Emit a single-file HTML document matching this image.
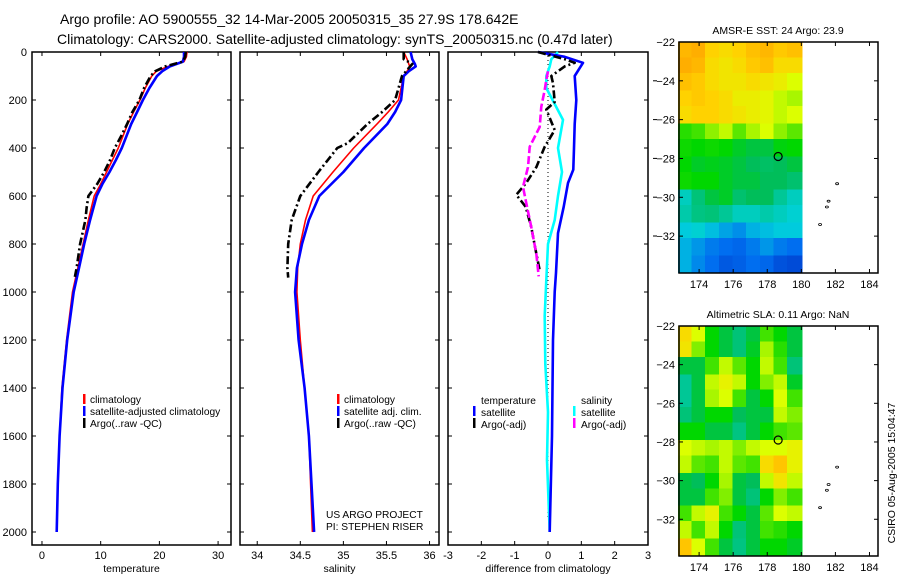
<!DOCTYPE html>
<html><head><meta charset="utf-8"><style>
body{margin:0;background:#fff;}
svg{display:block;font-family:"Liberation Sans",sans-serif;}
</style></head><body>
<svg id="fig" width="900" height="580" viewBox="0 0 900 580">
<text x="60" y="24" font-size="14">Argo profile: AO 5900555_32 14-Mar-2005 20050315_35 27.9S 178.642E</text>
<text x="57" y="44" font-size="14">Climatology: CARS2000. Satellite-adjusted climatology: synTS_20050315.nc (0.47d later)</text>
<g id="g"></g>
</svg>
<script>
// ---- data ----
const tDepth=[0,20,40,60,80,100,150,200,250,300,350,400,450,500,550,600,700,800,900,1000,1200,1400,1600,1800,2000];
const tClim=[24.7,24.6,24.2,21.5,19.5,18.7,17.6,16.7,15.6,14.6,13.8,13.0,12.0,11.0,10.0,8.9,7.9,7.0,6.1,5.2,4.2,3.4,3.0,2.7,2.5];
const tSat=[24.2,24.2,24.0,21.8,20.5,19.6,18.3,17.2,16.2,15.2,14.4,13.6,12.6,11.5,10.3,9.3,8.2,7.2,6.3,5.4,4.3,3.5,3.0,2.7,2.5];
const aDepth=[0,20,40,60,80,100,150,200,250,300,350,400,450,500,550,600,650,700,800,900,937];
const tArgo=[24.5,24.4,24.0,21.0,19.3,18.5,17.4,16.6,15.4,14.5,13.5,12.4,11.6,10.6,9.4,7.9,7.6,7.4,6.5,5.9,5.6];
const sDepth=[0,30,50,60,80,100,200,250,300,400,500,600,700,800,900,1000,1200,1400,1600,1800,2000];
const sClim=[35.70,35.74,35.76,35.77,35.74,35.70,35.64,35.52,35.39,35.12,34.88,34.65,34.56,34.50,34.47,34.46,34.50,34.55,34.60,34.62,34.64];
const sSat=[35.78,35.80,35.83,35.84,35.76,35.70,35.67,35.60,35.51,35.24,35.00,34.72,34.60,34.52,34.46,34.44,34.48,34.55,34.60,34.63,34.66];
const sArgoDepth=[0,30,50,100,200,250,300,380,400,500,600,700,800,900,940];
const sArgo=[35.70,35.70,35.80,35.68,35.60,35.45,35.28,35.05,34.93,34.71,34.50,34.40,34.36,34.35,34.36];
const dTDepth=[0,20,45,100,200,300,400,490,546,645,755,920,1000,1200,1600,2000];
const dTSat=[-0.3,0.5,1.05,0.8,0.85,0.8,0.78,0.76,0.6,0.47,0.3,0.24,0.2,0.15,0.12,0.05];
const dSDepth=[0,30,60,100,150,283,400,500,600,700,800,950,1100,1300,1500,1700,2000];
const dSSat=[0.3,0.1,0.05,-0.05,-0.05,0.45,0.3,0.42,0.3,0.2,0.0,-0.05,-0.1,-0.08,0.0,-0.03,0.05];
const dTArgoDepth=[0,30,45,60,100,130,208,240,325,395,480,545,595,645,730,840,910];
const dTArgo=[-0.3,0.5,0.8,0.5,0.1,0.15,0.2,-0.05,0.2,-0.1,-0.35,-0.65,-0.95,-0.67,-0.5,-0.35,-0.25];
const dSArgoDepth=[80,117,158,228,312,395,480,562,630,730,840,935];
const dSArgo=[0.0,-0.05,-0.1,-0.2,-0.25,-0.55,-0.6,-0.75,-0.65,-0.5,-0.35,-0.28];
const depthTicks=[0,200,400,600,800,1000,1200,1400,1600,1800,2000];
const tempTicks=[0,10,20,30];
const salTicks=[34,34.5,35,35.5,36];
const diffTicks=[-3,-2,-1,0,1,2,3];
const lonTicks=[174,176,178,180,182,184];
const latTicks=[-22,-24,-26,-28,-30,-32];
const gridLon=[173.2,174.0,174.8,175.6,176.4,177.2,178.0,178.8,179.6];
const gridLat=[-22.4,-23.3,-24.1,-25.0,-25.8,-26.7,-27.5,-28.4,-29.2,-30.1,-30.9,-31.8,-32.6,-33.5];
const sst=[
[0.88,0.9,0.82,0.8,0.82,0.86,0.88,0.84,0.86],
[0.9,0.88,0.8,0.78,0.8,0.84,0.86,0.8,0.8],
[0.86,0.84,0.8,0.78,0.78,0.8,0.78,0.76,0.72],
[0.82,0.84,0.82,0.8,0.76,0.76,0.74,0.7,0.68],
[0.8,0.82,0.82,0.8,0.78,0.76,0.74,0.7,0.72],
[0.58,0.6,0.66,0.7,0.62,0.68,0.72,0.66,0.62],
[0.56,0.55,0.56,0.55,0.52,0.5,0.5,0.54,0.55],
[0.55,0.52,0.53,0.52,0.5,0.48,0.47,0.48,0.5],
[0.56,0.55,0.55,0.52,0.5,0.5,0.48,0.48,0.46],
[0.38,0.45,0.5,0.52,0.46,0.48,0.48,0.42,0.38],
[0.4,0.44,0.45,0.42,0.38,0.38,0.4,0.38,0.36],
[0.34,0.36,0.32,0.28,0.25,0.3,0.32,0.34,0.34],
[0.3,0.26,0.22,0.2,0.18,0.22,0.26,0.22,0.2],
[0.3,0.24,0.2,0.14,0.16,0.2,0.18,0.12,0.1]];
const sla=[
[0.8,0.72,0.55,0.5,0.45,0.5,0.6,0.55,0.5],
[0.78,0.65,0.55,0.5,0.45,0.52,0.68,0.58,0.5],
[0.5,0.5,0.6,0.7,0.62,0.55,0.7,0.6,0.45],
[0.42,0.5,0.7,0.75,0.7,0.55,0.65,0.7,0.52],
[0.42,0.5,0.68,0.72,0.6,0.5,0.55,0.72,0.6],
[0.45,0.5,0.55,0.55,0.48,0.5,0.5,0.7,0.65],
[0.55,0.55,0.5,0.5,0.44,0.5,0.55,0.6,0.62],
[0.72,0.7,0.68,0.7,0.65,0.7,0.72,0.72,0.75],
[0.7,0.62,0.6,0.7,0.62,0.6,0.8,0.85,0.75],
[0.5,0.48,0.55,0.68,0.5,0.48,0.7,0.78,0.7],
[0.5,0.5,0.6,0.65,0.5,0.45,0.55,0.65,0.6],
[0.6,0.7,0.75,0.6,0.55,0.5,0.62,0.72,0.7],
[0.7,0.6,0.7,0.55,0.45,0.5,0.6,0.58,0.55],
[0.85,0.72,0.6,0.5,0.44,0.5,0.55,0.55,0.52]];
const floatLon=178.64, floatLat=-27.9;

// ---- helpers ----
const NS="http://www.w3.org/2000/svg";
const G=document.getElementById('g');
function mk(tag,at,parent){const e=document.createElementNS(NS,tag);for(const k in at)e.setAttribute(k,at[k]);(parent||G).appendChild(e);return e;}
const Y=d=>52+d*0.24;
function scale(d0,d1,p0,p1){return v=>p0+(v-d0)/(d1-d0)*(p1-p0);}
function line(xs,ds,X,Yf,stroke,w,dash,name){
  const pts=xs.map((v,i)=>X(v).toFixed(1)+','+Yf(ds[i]).toFixed(1)).join(' ');
  const p=mk('polyline',{points:pts,fill:'none',stroke:stroke,'stroke-width':w,'stroke-linejoin':'round'});
  if(dash)p.setAttribute('stroke-dasharray',dash);
  
  
}
function txt(x,y,s,size,anchor,name){const t=mk('text',{x:x,y:y,'font-size':size,'text-anchor':anchor||'start'});t.textContent=s;
  
  return t;}
function frame(x0,y0,x1,y1,name){const r=mk('rect',{x:x0,y:y0,width:x1-x0,height:y1-y0,fill:'none',stroke:'#000','stroke-width':1.5});
  
  }
function profPanel(x0,x1,X,ticks,title,name){
  frame(x0,52,x1,545,name+'-frame');
  ticks.forEach(t=>{const x=X(t);
    mk('line',{x1:x,y1:545,x2:x,y2:541,stroke:'#000'});mk('line',{x1:x,y1:52,x2:x,y2:56,stroke:'#000'});
    txt(x,559,String(t),11,'middle',name+'-x-tick-label');});
  depthTicks.forEach(d=>{mk('line',{x1:x0,y1:Y(d),x2:x0+4,y2:Y(d),stroke:'#000'});mk('line',{x1:x1,y1:Y(d),x2:x1-4,y2:Y(d),stroke:'#000'});});
  txt((x0+x1)/2,572,title,10.5,'middle',name+'-x-axis-title');
}
depthTicks.forEach(d=>txt(27,Y(d)+4,String(d),11,'end','depth-tick-label'));

// temperature panel
const XT=scale(-1.7,32.2,32,231);
profPanel(32,231,XT,tempTicks,'temperature','temperature-panel');
line(tClim,tDepth,XT,Y,'#f00',1.6,null,'temp-climatology-line');
line(tSat,tDepth,XT,Y,'#00f',2.6,null,'temp-satellite-line');
line(tArgo,aDepth,XT,Y,'#000',2.6,'8,3,2,3','temp-argo-line');
[['#f00','climatology'],['#00f','satellite-adjusted climatology'],['#000','Argo(..raw -QC)']].forEach((l,i)=>{
  mk('rect',{x:83,y:394+i*12,width:2.5,height:10,fill:l[0]});txt(90,403+i*12,l[1],10.2,'start','temp-legend-entry');});

// salinity panel
const XS=scale(33.8,36.11,240,439);
profPanel(240,439,XS,salTicks,'salinity','salinity-panel');
line(sClim,sDepth,XS,Y,'#f00',1.6,null,'sal-climatology-line');
line(sSat,sDepth,XS,Y,'#00f',2.6,null,'sal-satellite-line');
line(sArgo,sArgoDepth,XS,Y,'#000',2.6,'8,3,2,3','sal-argo-line');
[['#f00','climatology'],['#00f','satellite adj. clim.'],['#000','Argo(..raw -QC)']].forEach((l,i)=>{
  mk('rect',{x:337,y:394+i*12,width:2.5,height:10,fill:l[0]});txt(344,403+i*12,l[1],10.2,'start','sal-legend-entry');});
txt(326,518,'US ARGO PROJECT',10.2,'start','project-label');
txt(326,530,'PI: STEPHEN RISER',10.2,'start','pi-label');

// difference panel
const XD=scale(-3,3,448,648);
profPanel(448,648,XD,diffTicks,'difference from climatology','difference-panel');
mk('line',{x1:XD(0),y1:52,x2:XD(0),y2:Y(1950),stroke:'#000','stroke-width':1,'stroke-dasharray':'1,3'});
line(dSSat,dSDepth,XD,Y,'#0ff',2.6,null,'diff-sal-satellite-line');
line(dTSat,dTDepth,XD,Y,'#00f',2.6,null,'diff-temp-satellite-line');
line(dTArgo,dTArgoDepth,XD,Y,'#000',2.6,'8,3,2,3','diff-temp-argo-line');
line(dSArgo,dSArgoDepth,XD,Y,'#f0f',2.6,'8,3','diff-sal-argo-line');
txt(481,404,'temperature',10.2,'start','diff-legend-header');
txt(581,404,'salinity',10.2,'start','diff-legend-header');
[['#00f','satellite',473,481],['#000','Argo(-adj)',473,481],['#0ff','satellite',573,581],['#f0f','Argo(-adj)',573,581]].forEach((l,i)=>{
  const r=i%2;mk('rect',{x:l[2],y:406+r*12,width:2.5,height:10,fill:l[0]});txt(l[3],416+r*12,l[1],10.2,'start','diff-legend-entry');});
latTicks.forEach(la=>{const y=42+(-22-la)*19.4;if(la<-22)mk('line',{x1:653,y1:y,x2:657,y2:y,stroke:'#000'});});

// maps
function cmap(v){
  const st=[[0,[0,40,190]],[0.2,[0,110,240]],[0.35,[0,210,220]],[0.48,[0,190,90]],[0.55,[0,215,0]],[0.72,[220,255,0]],[0.82,[255,210,0]],[1,[255,130,0]]];
  for(let i=1;i<st.length;i++){if(v<=st[i][0]){const a=st[i-1],b=st[i],f=(v-a[0])/(b[0]-a[0]);
    return 'rgb('+a[1].map((c,j)=>Math.round(c+(b[1][j]-c)*f)).join(',')+')';}}
  return 'rgb(255,130,0)';}
function map(top,bot,grid,title,name){
  const X=scale(172.82,184.5,679,878);
  const Yl=scale(-22,-33.9,top,bot);
  const cw=X(0.82)-X(0), ch=Yl(-22.9)-Yl(-22);
  grid.forEach((row,r)=>row.forEach((v,c)=>{
    const cell=mk('rect',{x:(X(gridLon[c])-cw/2-0.5).toFixed(1),y:(Yl(gridLat[r])-ch/2-1).toFixed(1),width:(cw+1.5).toFixed(1),height:(ch+2.5).toFixed(1),fill:cmap(v),'shape-rendering':'crispEdges'});
    
    
  }));
  mk('rect',{x:X(180.2),y:top-5,width:878-X(180.2),height:bot-top+10,fill:'#fff'});
  mk('rect',{x:660,y:bot,width:220,height:8,fill:'#fff'});
  mk('rect',{x:660,y:top-8,width:220,height:8,fill:'#fff'});
  frame(679,top,878,bot,name+'-frame');
  lonTicks.forEach(l=>{const x=X(l);mk('line',{x1:x,y1:bot,x2:x,y2:bot-4,stroke:'#000'});mk('line',{x1:x,y1:top,x2:x,y2:top+4,stroke:'#000'});
    txt(x,bot+15,String(l),11,'middle',name+'-lon-label');});
  latTicks.forEach(l=>{const y=Yl(l);mk('line',{x1:679,y1:y,x2:683,y2:y,stroke:'#000'});mk('line',{x1:878,y1:y,x2:874,y2:y,stroke:'#000'});
    txt(675,y+4,String(l).replace('-','\u2212'),11,'end',name+'-lat-label');});
  const c=mk('circle',{cx:X(floatLon),cy:Yl(floatLat),r:4,fill:'none',stroke:'#000','stroke-width':1.2});
  
  
  [[182.1,-29.3],[181.5,-30.5],[181.6,-30.2],[181.1,-31.4]].forEach(p=>mk('ellipse',{cx:X(p[0]),cy:Yl(p[1]),rx:1.5,ry:1,fill:'none',stroke:'#000','stroke-width':0.8}));
  txt(778,top-8,title,10.5,'middle',name+'-title');
}
map(42,273,sst,'AMSR-E SST: 24 Argo: 23.9','sst-map');
map(326,556,sla,'Altimetric SLA: 0.11 Argo: NaN','sla-map');
const rt=txt(0,0,'CSIRO 05-Aug-2005 15:04:47',10.5,'middle','timestamp-label');
rt.setAttribute('transform','translate(895,473) rotate(-90)');
</script>
</body></html>
